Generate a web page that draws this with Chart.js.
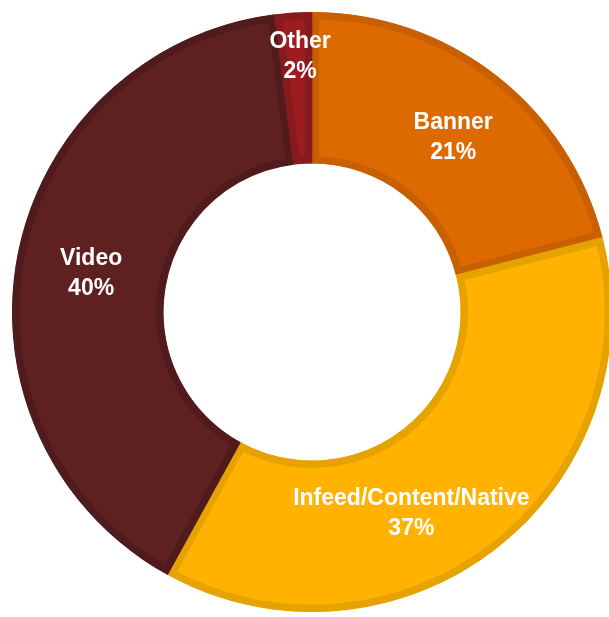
<!DOCTYPE html>
<html>
<head>
<meta charset="utf-8">
<script src="https://cdn.jsdelivr.net/npm/chart.js@4"></script>
<style>
  html, body { margin: 0; padding: 0; background: #fff; overflow: hidden; }
  #wrap { width: 609px; height: 617px; overflow: hidden; }
</style>
</head>
<body>
<div id="wrap"><canvas id="adChart" width="624" height="624"></canvas></div>
<script>
const categories = ['Banner', 'Infeed/Content/Native', 'Video', 'Other'];
const shares = [21, 37, 40, 2];

const fills = ['#DC6A00', '#FFB300', '#5E2021', '#9C1C20'];
const edges = ['#C85F00', '#E6A300', '#4F1B1C', '#861A1D'];
// where each label sits: fraction along the arc, fraction across the ring
const labelAlong = [0.516, 0.587, 0.494, 0.63];
const labelAcross = [0.5, 0.505, 0.5, 0.71];

const sliceLabels = {
    id: 'sliceLabels',
    afterDatasetsDraw(chart) {
        const ctx = chart.ctx;
        const meta = chart.getDatasetMeta(0);
        ctx.save();
        ctx.fillStyle = '#fff';
        ctx.font = 'bold 23px "Liberation Sans", Arial, sans-serif';
        ctx.textAlign = 'center';
        ctx.textBaseline = 'middle';
        meta.data.forEach((arc, i) => {
            const p = arc.getProps(['x', 'y', 'startAngle', 'endAngle', 'innerRadius', 'outerRadius'], true);
            const a = p.startAngle + (p.endAngle - p.startAngle) * labelAlong[i];
            const r = p.innerRadius + (p.outerRadius - p.innerRadius) * labelAcross[i];
            const cx = p.x + Math.cos(a) * r;
            const cy = p.y + Math.sin(a) * r;
            ctx.fillText(categories[i], cx, cy - 15);
            ctx.fillText(shares[i] + '%', cx, cy + 15);
        });
        ctx.restore();
    }
};

new Chart(document.getElementById('adChart'), {
    type: 'doughnut',
    data: {
        labels: categories,
        datasets: [{
            data: shares,
            backgroundColor: fills,
            borderColor: edges,
            borderWidth: 7,
            borderAlign: 'inner',
            borderJoinStyle: 'miter'
        }]
    },
    options: {
        responsive: false,
        animation: false,
        radius: 300,
        cutout: '49.5%',
        layout: { padding: 0 },
        plugins: { legend: { display: false }, tooltip: { enabled: false } }
    },
    plugins: [sliceLabels]
});
</script>
</body>
</html>
